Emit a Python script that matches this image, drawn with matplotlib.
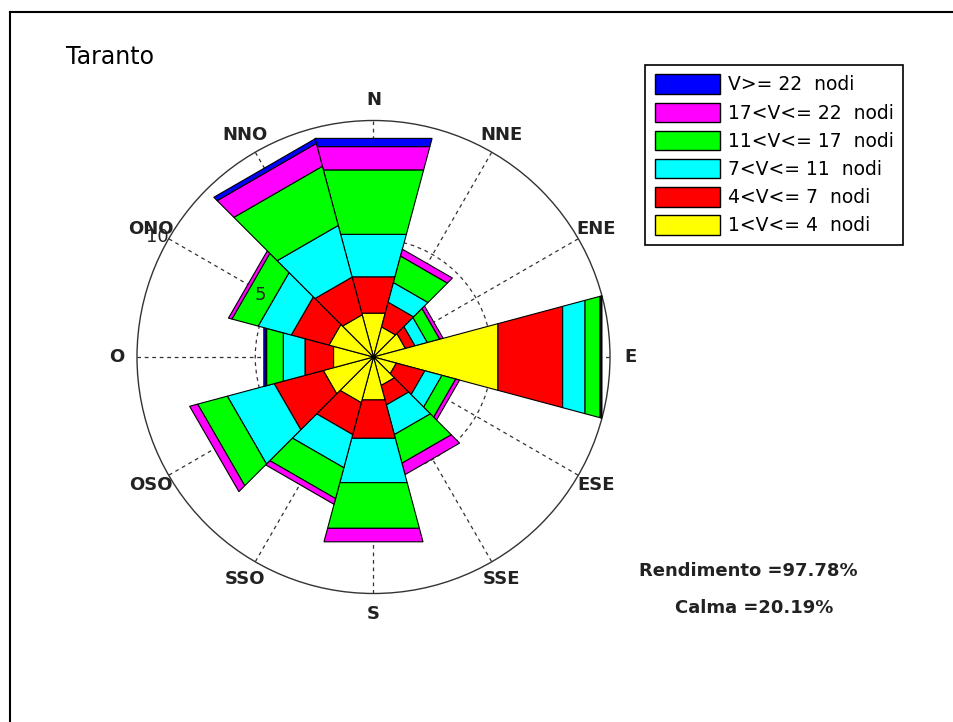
import numpy as np
import matplotlib.pyplot as plt
from matplotlib.patches import Patch, Circle
from matplotlib.lines import Line2D

# Direzioni (settori da 30 gradi, partendo da Nord in senso orario)
direzioni = ['N', 'NNE', 'ENE', 'E', 'ESE', 'SSE', 'S', 'SSO', 'OSO', 'O', 'ONO', 'NNO']

# Frequenze (%) per classe di velocita' e direzione
v_1_4 = [1.92, 1.32, 1.40, 5.45, 1.00, 1.25, 1.88, 2.00, 2.20, 1.75, 1.95, 1.85]
v_4_7 = [1.59, 1.08, 0.42, 2.83, 1.25, 0.85, 1.68, 1.40, 2.15, 1.25, 1.65, 1.65]
v_7_11 = [1.86, 0.86, 0.54, 0.98, 0.75, 1.30, 1.94, 1.45, 2.05, 0.95, 1.45, 2.26]
v_11_17 = [2.82, 1.16, 0.54, 0.66, 0.60, 1.25, 2.00, 1.35, 1.30, 0.73, 1.15, 2.59]
v_17_22 = [1.02, 0.30, 0.15, 0.04, 0.17, 0.50, 0.59, 0.25, 0.35, 0.04, 0.15, 1.00]
v_22 = [0.36, 0.00, 0.00, 0.04, 0.00, 0.00, 0.00, 0.00, 0.00, 0.08, 0.00, 0.20]

etichette = ['1<V<= 4  nodi', '4<V<= 7  nodi', '7<V<= 11  nodi',
             '11<V<= 17  nodi', '17<V<= 22  nodi', 'V>= 22  nodi']
colori = ['#ffff00', '#ff0000', '#00ffff', '#00ff00', '#ff00ff', '#0000ff']

anelli = [5, 10]
rendimento = 97.78
calma = 20.19

fig = plt.figure(figsize=(9.54, 7.22), dpi=100)
ax = fig.add_axes([89.7 / 954, 81.2 / 722, 567.6 / 954, 567.6 / 722])
ax.set_xlim(-12, 12)
ax.set_ylim(-12, 12)
ax.axis('off')

angoli = np.deg2rad(90 - 30 * np.arange(len(direzioni)))
mezza = np.deg2rad(15)
rmax = max(anelli)

# griglia polare
for a in angoli:
    ax.plot([0, rmax * np.cos(a)], [0, rmax * np.sin(a)], ls=(0, (3, 3)),
            color='#333333', lw=0.9, zorder=1)
ax.add_patch(Circle((0, 0), rmax, fill=False, ec='#333333', lw=1.0, zorder=1))
for r in anelli[:-1]:
    ax.add_patch(Circle((0, 0), r, fill=False, ec='#333333', lw=0.9,
                        ls=(0, (3, 3)), zorder=1))

# settori cumulati
dati = np.array([v_1_4, v_4_7, v_7_11, v_11_17, v_17_22, v_22])
cumulato = np.cumsum(dati, axis=0)
for i, a in enumerate(angoli):
    a1, a2 = a - mezza, a + mezza
    r0 = 0
    for k in range(len(colori)):
        r1 = cumulato[k, i]
        if dati[k, i] <= 0:
            continue
        xs = [r0 * np.cos(a1), r1 * np.cos(a1), r1 * np.cos(a2), r0 * np.cos(a2)]
        ys = [r0 * np.sin(a1), r1 * np.sin(a1), r1 * np.sin(a2), r0 * np.sin(a2)]
        ax.fill(xs, ys, facecolor=colori[k], edgecolor='black', lw=0.8, zorder=2)
        r0 = r1

# etichette direzioni
for d, a in zip(direzioni, angoli):
    ax.text(10.85 * np.cos(a), 10.85 * np.sin(a), d, ha='center', va='center',
            fontsize=13, fontweight='bold', color='#222222', zorder=4)

# etichette anelli
a_lab = np.deg2rad(151)
for r in anelli:
    ax.text((r + 0.45) * np.cos(a_lab), (r + 0.45) * np.sin(a_lab), str(r),
            ha='center', va='center', fontsize=13, color='#222222', zorder=4)

fig.text(110 / 954, 1 - 57 / 722, 'Taranto', fontsize=17, ha='center', va='center')
fig.text(748 / 954, 1 - 571 / 722, f'Rendimento ={rendimento:.2f}%', fontsize=13,
         fontweight='bold', ha='center', va='center', color='#222222')
fig.text(754 / 954, 1 - 608 / 722, f'Calma ={calma:.2f}%', fontsize=13,
         fontweight='bold', ha='center', va='center', color='#222222')

maniglie = [Patch(facecolor=c, edgecolor='black', lw=1) for c in colori[::-1]]
leg = fig.legend(maniglie, etichette[::-1], loc='upper right',
                 bbox_to_anchor=(903 / 954, 1 - 65 / 722), frameon=True,
                 fancybox=False, edgecolor='black', framealpha=1, fontsize=13.5,
                 handlelength=3.5, handleheight=1.23, labelspacing=0.43,
                 borderpad=0.5, handletextpad=0.4, borderaxespad=0)
leg.get_frame().set_linewidth(1.2)

# cornice della finestra
fig.add_artist(Line2D([10 / 954, 1], [1 - 12 / 722, 1 - 12 / 722], color='black', lw=1.5))
fig.add_artist(Line2D([10 / 954, 10 / 954], [0, 1 - 12 / 722], color='black', lw=1.5))

fig.savefig('out.png', dpi=100)
